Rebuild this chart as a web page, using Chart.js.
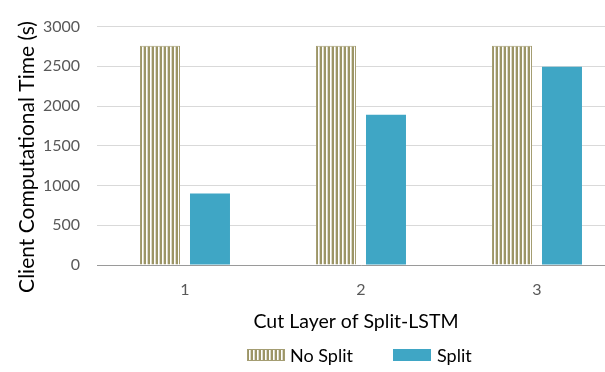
<!DOCTYPE html>
<html><head><meta charset="utf-8">
<script src="https://cdn.jsdelivr.net/npm/chart.js@4"></script>
<style>
html,body{margin:0;padding:0;background:#fff;overflow:hidden;width:605px;height:372px;}
#wrap{position:relative;width:709px;height:372px;}
.lg{position:absolute;font-family:Lato;font-size:18px;color:#000;line-height:20px;white-space:nowrap;}
.sw{position:absolute;width:38px;height:12px;}
</style></head>
<body>
<div id="wrap">
<canvas id="c" width="709" height="372"></canvas>
<canvas class="sw" id="sw0" width="38" height="12" style="left:247px;top:349px;"></canvas>
<span class="lg" id="lt0" style="left:290px;top:345px;"></span>
<canvas class="sw" id="sw1" width="38" height="12" style="left:393px;top:349px;"></canvas>
<span class="lg" id="lt1" style="left:437px;top:345px;"></span>
</div>
<script>
const categories = ['1', '2', '3'];
const noSplit = [2760, 2760, 2760];
const split = [900, 1890, 2495];
const yTicks = [0, 500, 1000, 1500, 2000, 2500, 3000];
const seriesNames = ['No Split', 'Split'];
const xTitle = 'Cut Layer of Split-LSTM';
const yTitle = 'Client Computational Time (s)';

const hatchDark = '#9c9566';
const splitColor = '#3fa6c5';

function makeHatch(ctxRef) {
  const p = document.createElement('canvas');
  p.width = 4; p.height = 4;
  const g = p.getContext('2d');
  g.fillStyle = '#ffffff'; g.fillRect(0, 0, 4, 4);
  g.fillStyle = hatchDark; g.fillRect(0, 0, 2, 4);
  g.fillStyle = 'rgba(156,149,102,0.35)'; g.fillRect(3, 0, 1, 4);
  return ctxRef.createPattern(p, 'repeat');
}
const hatch = makeHatch(document.getElementById('c').getContext('2d'));

// HTML legend
(function () {
  const s0 = document.getElementById('sw0').getContext('2d');
  s0.fillStyle = makeHatch(s0); s0.fillRect(0, 0, 38, 12);
  s0.strokeStyle = '#a49d72'; s0.lineWidth = 1; s0.strokeRect(0.5, 0.5, 37, 11);
  const s1 = document.getElementById('sw1').getContext('2d');
  s1.fillStyle = splitColor; s1.fillRect(0, 0, 38, 12);
  document.getElementById('lt0').textContent = seriesNames[0];
  document.getElementById('lt1').textContent = seriesNames[1];
})();

const titlesPlugin = {
  id: 'titles',
  afterDraw(chart) {
    const ctx = chart.ctx;
    ctx.save();
    ctx.fillStyle = '#000000';
    ctx.textAlign = 'center';
    ctx.textBaseline = 'middle';
    ctx.font = '19.5px Lato';
    ctx.fillText(xTitle, 356, 322);
    ctx.font = '21px Lato';
    ctx.translate(27, 157);
    ctx.rotate(-Math.PI / 2);
    ctx.fillText(yTitle, 0, 0);
    ctx.restore();
  }
};

new Chart(document.getElementById('c'), {
  type: 'bar',
  data: {
    labels: categories,
    datasets: [
      { label: seriesNames[0], data: noSplit, backgroundColor: hatch, borderColor: '#a49d72', borderWidth: 1 },
      { label: seriesNames[1], data: split, backgroundColor: splitColor, borderColor: splitColor, borderWidth: 0 }
    ]
  },
  options: {
    responsive: false,
    animation: false,
    devicePixelRatio: 1,
    layout: { padding: { top: 13, right: 84, bottom: 62, left: 0 } },
    datasets: { bar: { categoryPercentage: 0.568, barPercentage: 0.8 } },
    plugins: {
      tooltip: { enabled: false },
      title: { display: false },
      legend: { display: false }
    },
    scales: {
      x: {
        grid: { display: false, drawTicks: false },
        border: { display: true, color: '#9a9a9a', width: 1 },
        ticks: { color: '#595959', font: { family: 'Lato', size: 16 }, padding: 15 },
        afterFit(s) { s.height = 45; }
      },
      y: {
        min: 0, max: 3000,
        afterBuildTicks(s) { s.ticks = yTicks.map(v => ({ value: v })); },
        grid: { color: '#d9d9d9', lineWidth: 1, drawTicks: false },
        border: { display: false },
        ticks: { color: '#595959', font: { family: 'Lato', size: 16 }, padding: 17, callback: v => String(v) },
        afterFit(s) { s.width = 97; }
      }
    }
  },
  plugins: [titlesPlugin]
});
</script>
</body></html>
